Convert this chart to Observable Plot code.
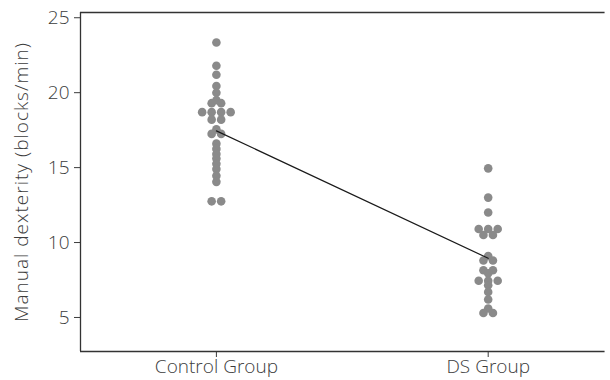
<!DOCTYPE html>
<html>
<head>
<meta charset="utf-8">
<script src="https://cdn.jsdelivr.net/npm/d3@7"></script>
<script src="https://cdn.jsdelivr.net/npm/@observablehq/plot@0.6"></script>
<style>
  html, body { margin: 0; padding: 0; background: #fff; overflow: hidden; }
  g[aria-label="y-axis label"] text { letter-spacing: 1px; }
</style>
</head>
<body>
<div id="chart"></div>
<script>
// ---- data ----
const groups = ["Control Group", "DS Group"];
const controlValues = [23.35, 21.8, 21.2, 20.45, 20.0, 19.5, 19.3, 19.3, 18.7, 18.7, 18.7, 18.7,
  18.2, 18.2, 17.55, 17.25, 17.25, 16.6, 16.25, 15.9, 15.6, 15.25, 14.9, 14.45, 14.05, 12.75, 12.75];
const dsValues = [14.95, 13.0, 12.0, 10.9, 10.9, 10.9, 10.5, 10.5, 9.1, 8.8, 8.8, 8.15, 8.15, 7.95,
  7.45, 7.45, 7.45, 7.15, 6.7, 6.2, 5.6, 5.3, 5.3];
const groupMeans = [17.45, 8.95];
const yTicks = [5, 10, 15, 20, 25];

// ---- layout ----
const W = 610, H = 380, mL = 80, mR = 0, mT = 12, mB = 29;
const xDomain = [0.5, 2.45];
const yDomain = [2.73, 25.35];
const dotR = 4.3;
const dotSpacingPx = 9.5;
const pxPerX = (W - mL - mR) / (xDomain[1] - xDomain[0]);

// stack identical values side by side (classic dot plot)
function stackRows(values, gi) {
  const counts = d3.rollup(values, v => v.length, v => v);
  const seen = new Map();
  return values.map(v => {
    const n = counts.get(v);
    const k = seen.get(v) || 0;
    seen.set(v, k + 1);
    const offPx = (k - (n - 1) / 2) * dotSpacingPx;
    return {group: groups[gi], g: gi + 1, x: gi + 1 + offPx / pxPerX, value: v};
  });
}
const dots = [...stackRows(controlValues, 0), ...stackRows(dsValues, 1)];
const means = groupMeans.map((m, i) => ({x: i + 1, value: m}));
// open frame: bottom, left, top (no right side)
const xOpen = xDomain[1] - 0.02;
const bottomEdge = [{x1: xDomain[0], x2: xOpen, y: yDomain[0]}];
const topEdge = [{x1: xDomain[0], x2: xOpen, y: yDomain[1]}];
const leftEdge = [{x: xDomain[0], y1: yDomain[0], y2: yDomain[1]}];

const chart = Plot.plot({
  width: W, height: H,
  marginLeft: mL, marginRight: mR, marginTop: mT, marginBottom: mB,
  style: {fontFamily: "'Open Sans', Lato, sans-serif", fontSize: "19px", fontWeight: 300, color: "#3c3c3c", background: "#fff"},
  x: {domain: xDomain, ticks: [1, 2], tickFormat: d => groups[d - 1], label: null, tickSize: 6, tickPadding: 2},
  y: {domain: yDomain, ticks: yTicks, label: "Manual dexterity (blocks/min)", labelAnchor: "center", labelOffset: 66, labelArrow: "none", tickSize: 6, tickPadding: 5},
  marks: [
    Plot.ruleY(bottomEdge, {x1: "x1", x2: "x2", y: "y", stroke: "#333", strokeWidth: 1.3}),
    Plot.ruleY(topEdge, {x1: "x1", x2: "x2", y: "y", stroke: "#333", strokeWidth: 1.3}),
    Plot.ruleX(leftEdge, {x: "x", y1: "y1", y2: "y2", stroke: "#333", strokeWidth: 1.3}),
    Plot.dot(dots, {x: "x", y: "value", r: dotR, fill: "#8a8a8a", stroke: "none"}),
    Plot.line(means, {x: "x", y: "value", stroke: "#1a1a1a", strokeWidth: 1.2})
  ]
});
document.getElementById("chart").appendChild(chart);
</script>
</body>
</html>
